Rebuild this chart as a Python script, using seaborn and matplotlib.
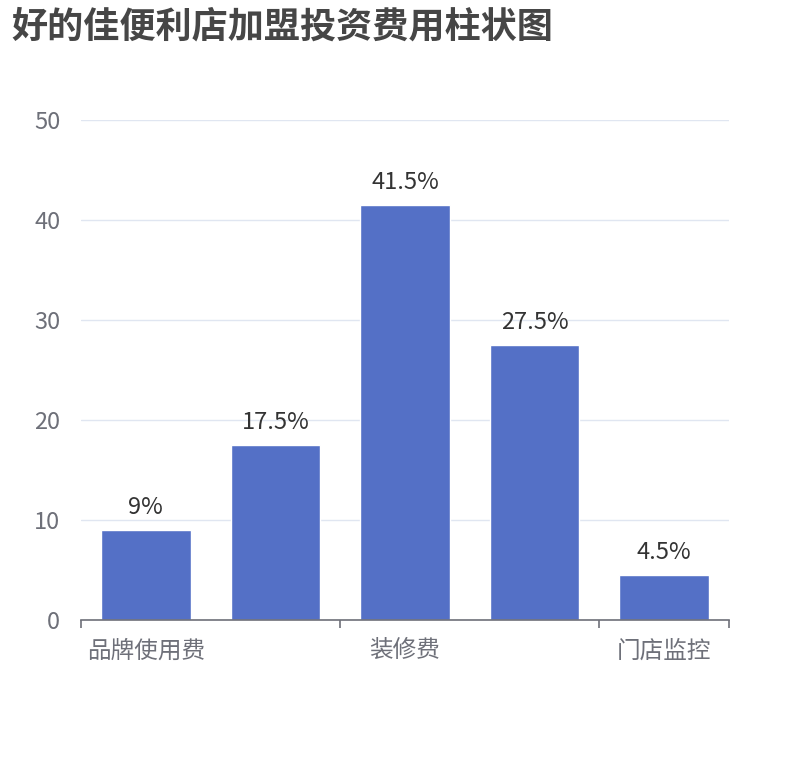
import pandas as pd
import matplotlib.pyplot as plt
import seaborn as sns

# ----------------------------
# DATA
# ----------------------------
categories = ["品牌使用费", "加盟费", "装修费", "设备费", "门店监控"]
values = [9, 17.5, 41.5, 27.5, 4.5]
shown_labels = ["品牌使用费", "装修费", "门店监控"]
yticks = [0, 10, 20, 30, 40, 50]

df = pd.DataFrame({"category": categories, "value": values})

# ----------------------------
# STYLE
# ----------------------------
sns.set_style("white")
plt.rcParams['font.family'] = ['Noto Sans CJK SC', 'DejaVu Sans']

fig = plt.figure(figsize=(8.1, 7.6), dpi=100)
ax = fig.add_axes([0.1, 0.1842, 0.8, 0.6579])

sns.barplot(data=df, x="category", y="value", color="#5470c6",
            width=0.69, saturation=1, ax=ax, zorder=3)

# value labels
for i, v in enumerate(values):
    ax.text(i, v + 1.1, f"{v:g}%", ha="center", va="bottom",
            fontsize=17, color="#333333")

ax.set_xlim(-0.5, len(categories) - 0.5)
ax.set_ylim(0, 50)
ax.set_yticks(yticks)
ax.set_yticklabels([str(t) for t in yticks])
ax.yaxis.grid(True, color="#e0e6f1", linewidth=1, zorder=0)
ax.tick_params(axis="y", length=0, pad=15, labelsize=17, labelcolor="#6e7079")

# x ticks at category boundaries every other category, labels at centres
ax.set_xticks([-0.5, 1.5, 3.5, 4.5])
ax.set_xticklabels([])
ax.tick_params(axis="x", which="major", bottom=True, length=6, width=1.2,
               color="#6e7079", direction="out")
ax.set_xticks([0, 2, 4], minor=True)
ax.set_xticklabels(shown_labels, minor=True)
ax.tick_params(axis="x", which="minor", bottom=True, length=0, pad=14,
               labelsize=17, labelcolor="#6e7079")

ax.set_xlabel("")
ax.set_ylabel("")
for s in ["top", "right", "left"]:
    ax.spines[s].set_visible(False)
ax.spines["bottom"].set_color("#6e7079")
ax.spines["bottom"].set_linewidth(1.2)
ax.spines["bottom"].set_zorder(4)

fig.text(11 / 810, 1 - 27 / 760, "好的佳便利店加盟投资费用柱状图", ha="left", va="center",
         fontsize=26, fontweight="bold", color="#464646")

plt.savefig("out.png", dpi=100)
